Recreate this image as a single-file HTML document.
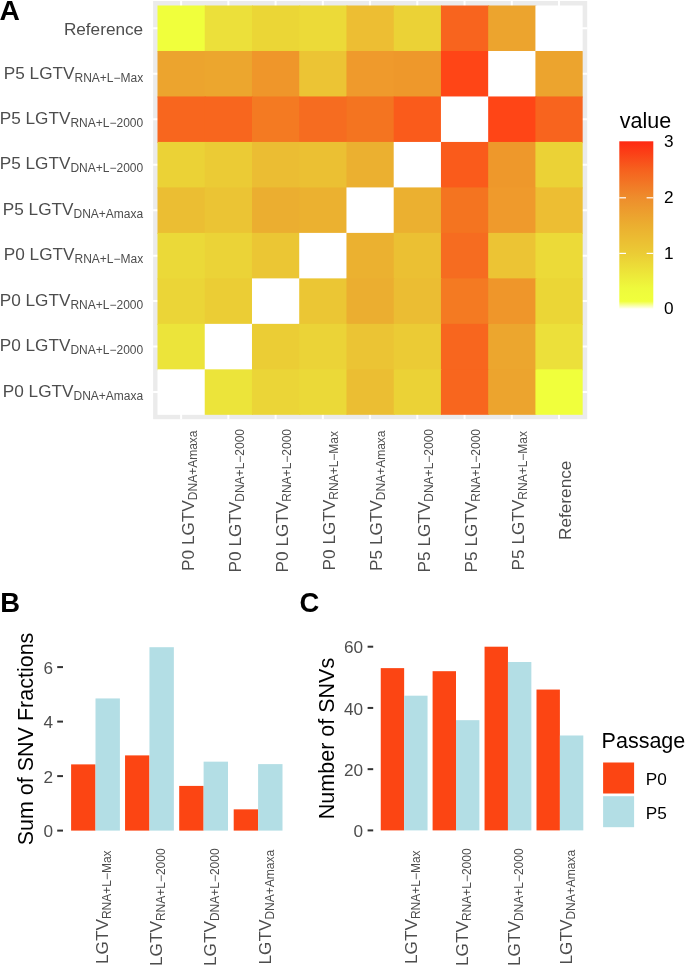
<!DOCTYPE html>
<html><head><meta charset="utf-8"><title>Figure</title>
<style>
html,body{margin:0;padding:0;background:#fff;}
body{width:685px;height:966px;overflow:hidden;}
svg{display:block;font-family:"Liberation Sans", sans-serif;will-change:transform;}
</style></head><body>
<svg width="685" height="966" viewBox="0 0 685 966">
<rect x="153.1" y="1" width="434.1" height="418.2" fill="#EBEBEB"/>
<line x1="181.12" y1="1" x2="181.12" y2="419.2" stroke="#fff" stroke-width="2"/>
<line x1="153.1" y1="28.24" x2="587.2" y2="28.24" stroke="#fff" stroke-width="2"/>
<line x1="228.36" y1="1" x2="228.36" y2="419.2" stroke="#fff" stroke-width="2"/>
<line x1="153.1" y1="73.72" x2="587.2" y2="73.72" stroke="#fff" stroke-width="2"/>
<line x1="275.60" y1="1" x2="275.60" y2="419.2" stroke="#fff" stroke-width="2"/>
<line x1="153.1" y1="119.20" x2="587.2" y2="119.20" stroke="#fff" stroke-width="2"/>
<line x1="322.84" y1="1" x2="322.84" y2="419.2" stroke="#fff" stroke-width="2"/>
<line x1="153.1" y1="164.68" x2="587.2" y2="164.68" stroke="#fff" stroke-width="2"/>
<line x1="370.08" y1="1" x2="370.08" y2="419.2" stroke="#fff" stroke-width="2"/>
<line x1="153.1" y1="210.16" x2="587.2" y2="210.16" stroke="#fff" stroke-width="2"/>
<line x1="417.32" y1="1" x2="417.32" y2="419.2" stroke="#fff" stroke-width="2"/>
<line x1="153.1" y1="255.64" x2="587.2" y2="255.64" stroke="#fff" stroke-width="2"/>
<line x1="464.56" y1="1" x2="464.56" y2="419.2" stroke="#fff" stroke-width="2"/>
<line x1="153.1" y1="301.12" x2="587.2" y2="301.12" stroke="#fff" stroke-width="2"/>
<line x1="511.80" y1="1" x2="511.80" y2="419.2" stroke="#fff" stroke-width="2"/>
<line x1="153.1" y1="346.60" x2="587.2" y2="346.60" stroke="#fff" stroke-width="2"/>
<line x1="559.04" y1="1" x2="559.04" y2="419.2" stroke="#fff" stroke-width="2"/>
<line x1="153.1" y1="392.08" x2="587.2" y2="392.08" stroke="#fff" stroke-width="2"/>
<rect x="157.50" y="5.50" width="48.24" height="46.48" fill="#F0FF3C"/>
<rect x="204.74" y="5.50" width="48.24" height="46.48" fill="#ECE03A"/>
<rect x="251.98" y="5.50" width="48.24" height="46.48" fill="#EBD636"/>
<rect x="299.22" y="5.50" width="48.24" height="46.48" fill="#ECDA38"/>
<rect x="346.46" y="5.50" width="48.24" height="46.48" fill="#EDBE33"/>
<rect x="393.70" y="5.50" width="48.24" height="46.48" fill="#EBD236"/>
<rect x="440.94" y="5.50" width="48.24" height="46.48" fill="#F8641E"/>
<rect x="488.18" y="5.50" width="48.24" height="46.48" fill="#ECA42E"/>
<rect x="535.42" y="5.50" width="47.24" height="46.48" fill="#FFFFFF"/>
<rect x="157.50" y="50.98" width="48.24" height="46.48" fill="#ECA42E"/>
<rect x="204.74" y="50.98" width="48.24" height="46.48" fill="#ECA62E"/>
<rect x="251.98" y="50.98" width="48.24" height="46.48" fill="#EF962A"/>
<rect x="299.22" y="50.98" width="48.24" height="46.48" fill="#ECC434"/>
<rect x="346.46" y="50.98" width="48.24" height="46.48" fill="#EF9A2C"/>
<rect x="393.70" y="50.98" width="48.24" height="46.48" fill="#EE982B"/>
<rect x="440.94" y="50.98" width="48.24" height="46.48" fill="#FF4516"/>
<rect x="488.18" y="50.98" width="48.24" height="46.48" fill="#FFFFFF"/>
<rect x="535.42" y="50.98" width="47.24" height="46.48" fill="#ECA42E"/>
<rect x="157.50" y="96.46" width="48.24" height="46.48" fill="#F8661E"/>
<rect x="204.74" y="96.46" width="48.24" height="46.48" fill="#F8661E"/>
<rect x="251.98" y="96.46" width="48.24" height="46.48" fill="#F47A22"/>
<rect x="299.22" y="96.46" width="48.24" height="46.48" fill="#F66C20"/>
<rect x="346.46" y="96.46" width="48.24" height="46.48" fill="#F47420"/>
<rect x="393.70" y="96.46" width="48.24" height="46.48" fill="#FA5B1B"/>
<rect x="440.94" y="96.46" width="48.24" height="46.48" fill="#FFFFFF"/>
<rect x="488.18" y="96.46" width="48.24" height="46.48" fill="#FF4516"/>
<rect x="535.42" y="96.46" width="47.24" height="46.48" fill="#F8641E"/>
<rect x="157.50" y="141.94" width="48.24" height="46.48" fill="#EBD236"/>
<rect x="204.74" y="141.94" width="48.24" height="46.48" fill="#EBCB35"/>
<rect x="251.98" y="141.94" width="48.24" height="46.48" fill="#EBBD33"/>
<rect x="299.22" y="141.94" width="48.24" height="46.48" fill="#EBC033"/>
<rect x="346.46" y="141.94" width="48.24" height="46.48" fill="#EBB030"/>
<rect x="393.70" y="141.94" width="48.24" height="46.48" fill="#FFFFFF"/>
<rect x="440.94" y="141.94" width="48.24" height="46.48" fill="#FA5B1B"/>
<rect x="488.18" y="141.94" width="48.24" height="46.48" fill="#EE982B"/>
<rect x="535.42" y="141.94" width="47.24" height="46.48" fill="#EBD236"/>
<rect x="157.50" y="187.42" width="48.24" height="46.48" fill="#EBBE33"/>
<rect x="204.74" y="187.42" width="48.24" height="46.48" fill="#EBC434"/>
<rect x="251.98" y="187.42" width="48.24" height="46.48" fill="#EBAE30"/>
<rect x="299.22" y="187.42" width="48.24" height="46.48" fill="#EBB130"/>
<rect x="346.46" y="187.42" width="48.24" height="46.48" fill="#FFFFFF"/>
<rect x="393.70" y="187.42" width="48.24" height="46.48" fill="#EBB030"/>
<rect x="440.94" y="187.42" width="48.24" height="46.48" fill="#F47420"/>
<rect x="488.18" y="187.42" width="48.24" height="46.48" fill="#EF9A2C"/>
<rect x="535.42" y="187.42" width="47.24" height="46.48" fill="#EDBE33"/>
<rect x="157.50" y="232.90" width="48.24" height="46.48" fill="#EBD938"/>
<rect x="204.74" y="232.90" width="48.24" height="46.48" fill="#EBD337"/>
<rect x="251.98" y="232.90" width="48.24" height="46.48" fill="#EBC634"/>
<rect x="299.22" y="232.90" width="48.24" height="46.48" fill="#FFFFFF"/>
<rect x="346.46" y="232.90" width="48.24" height="46.48" fill="#EBB130"/>
<rect x="393.70" y="232.90" width="48.24" height="46.48" fill="#EBC033"/>
<rect x="440.94" y="232.90" width="48.24" height="46.48" fill="#F66C20"/>
<rect x="488.18" y="232.90" width="48.24" height="46.48" fill="#ECC434"/>
<rect x="535.42" y="232.90" width="47.24" height="46.48" fill="#ECDA38"/>
<rect x="157.50" y="278.38" width="48.24" height="46.48" fill="#EBD537"/>
<rect x="204.74" y="278.38" width="48.24" height="46.48" fill="#EBCD35"/>
<rect x="251.98" y="278.38" width="48.24" height="46.48" fill="#FFFFFF"/>
<rect x="299.22" y="278.38" width="48.24" height="46.48" fill="#EBC634"/>
<rect x="346.46" y="278.38" width="48.24" height="46.48" fill="#EBAE30"/>
<rect x="393.70" y="278.38" width="48.24" height="46.48" fill="#EBBD33"/>
<rect x="440.94" y="278.38" width="48.24" height="46.48" fill="#F47A22"/>
<rect x="488.18" y="278.38" width="48.24" height="46.48" fill="#EF962A"/>
<rect x="535.42" y="278.38" width="47.24" height="46.48" fill="#EBD636"/>
<rect x="157.50" y="323.86" width="48.24" height="46.48" fill="#ECE43A"/>
<rect x="204.74" y="323.86" width="48.24" height="46.48" fill="#FFFFFF"/>
<rect x="251.98" y="323.86" width="48.24" height="46.48" fill="#EBCD35"/>
<rect x="299.22" y="323.86" width="48.24" height="46.48" fill="#EBD337"/>
<rect x="346.46" y="323.86" width="48.24" height="46.48" fill="#EBC434"/>
<rect x="393.70" y="323.86" width="48.24" height="46.48" fill="#EBCB35"/>
<rect x="440.94" y="323.86" width="48.24" height="46.48" fill="#F8661E"/>
<rect x="488.18" y="323.86" width="48.24" height="46.48" fill="#ECA62E"/>
<rect x="535.42" y="323.86" width="47.24" height="46.48" fill="#ECE03A"/>
<rect x="157.50" y="369.34" width="48.24" height="45.48" fill="#FFFFFF"/>
<rect x="204.74" y="369.34" width="48.24" height="45.48" fill="#ECE43A"/>
<rect x="251.98" y="369.34" width="48.24" height="45.48" fill="#EBD537"/>
<rect x="299.22" y="369.34" width="48.24" height="45.48" fill="#EBD938"/>
<rect x="346.46" y="369.34" width="48.24" height="45.48" fill="#EBBE33"/>
<rect x="393.70" y="369.34" width="48.24" height="45.48" fill="#EBD236"/>
<rect x="440.94" y="369.34" width="48.24" height="45.48" fill="#F8661E"/>
<rect x="488.18" y="369.34" width="48.24" height="45.48" fill="#ECA42E"/>
<rect x="535.42" y="369.34" width="47.24" height="45.48" fill="#F0FF3C"/>
<text x="143.2" y="34.84" text-anchor="end" font-size="17.2" fill="#4D4D4D">Reference</text>
<text x="143.2" y="78.52" text-anchor="end" font-size="17.2" fill="#4D4D4D">P5 LGTV<tspan font-size="12.0" dy="3.0">RNA+L−Max</tspan></text>
<text x="143.2" y="124.00" text-anchor="end" font-size="17.2" fill="#4D4D4D">P5 LGTV<tspan font-size="12.0" dy="3.0">RNA+L−2000</tspan></text>
<text x="143.2" y="169.48" text-anchor="end" font-size="17.2" fill="#4D4D4D">P5 LGTV<tspan font-size="12.0" dy="3.0">DNA+L−2000</tspan></text>
<text x="143.2" y="214.96" text-anchor="end" font-size="17.2" fill="#4D4D4D">P5 LGTV<tspan font-size="12.0" dy="3.0">DNA+Amaxa</tspan></text>
<text x="143.2" y="260.44" text-anchor="end" font-size="17.2" fill="#4D4D4D">P0 LGTV<tspan font-size="12.0" dy="3.0">RNA+L−Max</tspan></text>
<text x="143.2" y="305.92" text-anchor="end" font-size="17.2" fill="#4D4D4D">P0 LGTV<tspan font-size="12.0" dy="3.0">RNA+L−2000</tspan></text>
<text x="143.2" y="351.40" text-anchor="end" font-size="17.2" fill="#4D4D4D">P0 LGTV<tspan font-size="12.0" dy="3.0">DNA+L−2000</tspan></text>
<text x="143.2" y="396.88" text-anchor="end" font-size="17.2" fill="#4D4D4D">P0 LGTV<tspan font-size="12.0" dy="3.0">DNA+Amaxa</tspan></text>
<text transform="translate(193.52,500.70) rotate(-90)" x="0" y="0" text-anchor="middle" font-size="17.2" fill="#4D4D4D">P0 LGTV<tspan font-size="12.0" dy="3.0">DNA+Amaxa</tspan></text>
<text transform="translate(240.76,500.70) rotate(-90)" x="0" y="0" text-anchor="middle" font-size="17.2" fill="#4D4D4D">P0 LGTV<tspan font-size="12.0" dy="3.0">DNA+L−2000</tspan></text>
<text transform="translate(288.00,500.70) rotate(-90)" x="0" y="0" text-anchor="middle" font-size="17.2" fill="#4D4D4D">P0 LGTV<tspan font-size="12.0" dy="3.0">RNA+L−2000</tspan></text>
<text transform="translate(335.24,500.70) rotate(-90)" x="0" y="0" text-anchor="middle" font-size="17.2" fill="#4D4D4D">P0 LGTV<tspan font-size="12.0" dy="3.0">RNA+L−Max</tspan></text>
<text transform="translate(382.48,500.70) rotate(-90)" x="0" y="0" text-anchor="middle" font-size="17.2" fill="#4D4D4D">P5 LGTV<tspan font-size="12.0" dy="3.0">DNA+Amaxa</tspan></text>
<text transform="translate(429.72,500.70) rotate(-90)" x="0" y="0" text-anchor="middle" font-size="17.2" fill="#4D4D4D">P5 LGTV<tspan font-size="12.0" dy="3.0">DNA+L−2000</tspan></text>
<text transform="translate(476.96,500.70) rotate(-90)" x="0" y="0" text-anchor="middle" font-size="17.2" fill="#4D4D4D">P5 LGTV<tspan font-size="12.0" dy="3.0">RNA+L−2000</tspan></text>
<text transform="translate(524.20,500.70) rotate(-90)" x="0" y="0" text-anchor="middle" font-size="17.2" fill="#4D4D4D">P5 LGTV<tspan font-size="12.0" dy="3.0">RNA+L−Max</tspan></text>
<text transform="translate(570.84,500.30) rotate(-90)" x="0" y="0" text-anchor="middle" font-size="17.2" fill="#4D4D4D">Reference</text>
<defs><linearGradient id="g" x1="0" y1="1" x2="0" y2="0"><stop offset="0" stop-color="#FFFFF4"/><stop offset="0.045" stop-color="#F0FF3C"/><stop offset="0.12" stop-color="#EEFA3C"/><stop offset="0.333" stop-color="#EBCB35"/><stop offset="0.5" stop-color="#EBAE30"/><stop offset="0.667" stop-color="#EE8C2C"/><stop offset="0.833" stop-color="#F6601E"/><stop offset="1" stop-color="#FF2812"/></linearGradient></defs>
<rect x="619.3" y="141.3" width="34" height="167.5" fill="url(#g)"/>
<line x1="619.3" y1="253.4" x2="626" y2="253.4" stroke="#fff" stroke-width="1.2"/>
<line x1="646.6" y1="253.4" x2="653.3" y2="253.4" stroke="#fff" stroke-width="1.2"/>
<line x1="619.3" y1="197.8" x2="626" y2="197.8" stroke="#fff" stroke-width="1.2"/>
<line x1="646.6" y1="197.8" x2="653.3" y2="197.8" stroke="#fff" stroke-width="1.2"/>
<text x="619.8" y="128" font-size="21.5" fill="#000">value</text>
<text x="664.0" y="147.20" font-size="17.2" fill="#000">3</text>
<text x="664.0" y="203.20" font-size="17.2" fill="#000">2</text>
<text x="664.0" y="258.80" font-size="17.2" fill="#000">1</text>
<text x="664.0" y="314.40" font-size="17.2" fill="#000">0</text>
<text x="-0.6" y="20.1" font-size="28.2" font-weight="bold" fill="#000">A</text>
<text x="0.3" y="611.9" font-size="27.4" font-weight="bold" fill="#000">B</text>
<text x="299.6" y="611.7" font-size="27.4" font-weight="bold" fill="#000">C</text>
<rect x="71.10" y="764.38" width="24.40" height="66.22" fill="#FC4513"/>
<rect x="95.50" y="698.44" width="24.40" height="132.16" fill="#B3DEE5"/>
<rect x="125.05" y="755.39" width="24.40" height="75.21" fill="#FC4513"/>
<rect x="149.45" y="647.21" width="24.40" height="183.39" fill="#B3DEE5"/>
<rect x="179.20" y="785.91" width="24.40" height="44.69" fill="#FC4513"/>
<rect x="203.60" y="761.66" width="24.40" height="68.94" fill="#B3DEE5"/>
<rect x="233.70" y="809.35" width="24.40" height="21.25" fill="#FC4513"/>
<rect x="258.10" y="764.11" width="24.40" height="66.49" fill="#B3DEE5"/>
<line x1="57.2" y1="830.60" x2="63" y2="830.60" stroke="#333" stroke-width="2"/>
<text x="53.0" y="837.20" text-anchor="end" font-size="17.2" fill="#4D4D4D">0</text>
<line x1="57.2" y1="776.10" x2="63" y2="776.10" stroke="#333" stroke-width="2"/>
<text x="53.0" y="782.70" text-anchor="end" font-size="17.2" fill="#4D4D4D">2</text>
<line x1="57.2" y1="721.60" x2="63" y2="721.60" stroke="#333" stroke-width="2"/>
<text x="53.0" y="728.20" text-anchor="end" font-size="17.2" fill="#4D4D4D">4</text>
<line x1="57.2" y1="667.10" x2="63" y2="667.10" stroke="#333" stroke-width="2"/>
<text x="53.0" y="673.70" text-anchor="end" font-size="17.2" fill="#4D4D4D">6</text>
<text transform="translate(33.2,739) rotate(-90)" text-anchor="middle" font-size="21.5" fill="#000">Sum of SNV Fractions</text>
<text transform="translate(107.90,907.2) rotate(-90)" text-anchor="middle" font-size="17.2" fill="#4D4D4D">LGTV<tspan font-size="12.0" dy="3.0">RNA+L−Max</tspan></text>
<text transform="translate(161.85,907.2) rotate(-90)" text-anchor="middle" font-size="17.2" fill="#4D4D4D">LGTV<tspan font-size="12.0" dy="3.0">RNA+L−2000</tspan></text>
<text transform="translate(216.00,907.2) rotate(-90)" text-anchor="middle" font-size="17.2" fill="#4D4D4D">LGTV<tspan font-size="12.0" dy="3.0">DNA+L−2000</tspan></text>
<text transform="translate(270.50,907.2) rotate(-90)" text-anchor="middle" font-size="17.2" fill="#4D4D4D">LGTV<tspan font-size="12.0" dy="3.0">DNA+Amaxa</tspan></text>
<rect x="380.75" y="668.13" width="23.40" height="162.27" fill="#FC4513"/>
<rect x="404.15" y="695.69" width="23.40" height="134.71" fill="#B3DEE5"/>
<rect x="432.60" y="671.19" width="23.40" height="159.21" fill="#FC4513"/>
<rect x="456.00" y="720.18" width="23.40" height="110.22" fill="#B3DEE5"/>
<rect x="484.55" y="646.70" width="23.40" height="183.70" fill="#FC4513"/>
<rect x="507.95" y="662.01" width="23.40" height="168.39" fill="#B3DEE5"/>
<rect x="536.50" y="689.56" width="23.40" height="140.84" fill="#FC4513"/>
<rect x="559.90" y="735.49" width="23.40" height="94.91" fill="#B3DEE5"/>
<line x1="367.6" y1="830.40" x2="373.2" y2="830.40" stroke="#333" stroke-width="2"/>
<text x="363.0" y="837.10" text-anchor="end" font-size="17.2" fill="#4D4D4D">0</text>
<line x1="367.6" y1="769.17" x2="373.2" y2="769.17" stroke="#333" stroke-width="2"/>
<text x="363.0" y="775.87" text-anchor="end" font-size="17.2" fill="#4D4D4D">20</text>
<line x1="367.6" y1="707.93" x2="373.2" y2="707.93" stroke="#333" stroke-width="2"/>
<text x="363.0" y="714.63" text-anchor="end" font-size="17.2" fill="#4D4D4D">40</text>
<line x1="367.6" y1="646.70" x2="373.2" y2="646.70" stroke="#333" stroke-width="2"/>
<text x="363.0" y="653.40" text-anchor="end" font-size="17.2" fill="#4D4D4D">60</text>
<text transform="translate(334,738.5) rotate(-90)" text-anchor="middle" font-size="21.5" fill="#000">Number of SNVs</text>
<text transform="translate(416.55,907.2) rotate(-90)" text-anchor="middle" font-size="17.2" fill="#4D4D4D">LGTV<tspan font-size="12.0" dy="3.0">RNA+L−Max</tspan></text>
<text transform="translate(468.40,907.2) rotate(-90)" text-anchor="middle" font-size="17.2" fill="#4D4D4D">LGTV<tspan font-size="12.0" dy="3.0">RNA+L−2000</tspan></text>
<text transform="translate(520.35,907.2) rotate(-90)" text-anchor="middle" font-size="17.2" fill="#4D4D4D">LGTV<tspan font-size="12.0" dy="3.0">DNA+L−2000</tspan></text>
<text transform="translate(572.30,907.2) rotate(-90)" text-anchor="middle" font-size="17.2" fill="#4D4D4D">LGTV<tspan font-size="12.0" dy="3.0">DNA+Amaxa</tspan></text>
<text x="601.6" y="748" font-size="21.5" fill="#000">Passage</text>
<rect x="603.1" y="762.5" width="31" height="31" fill="#FC4513"/>
<rect x="603.1" y="796.2" width="31" height="31" fill="#B3DEE5"/>
<text x="645.8" y="784.6" font-size="17.2" fill="#000">P0</text>
<text x="645.8" y="818.5" font-size="17.2" fill="#000">P5</text>
</svg>
</body></html>
